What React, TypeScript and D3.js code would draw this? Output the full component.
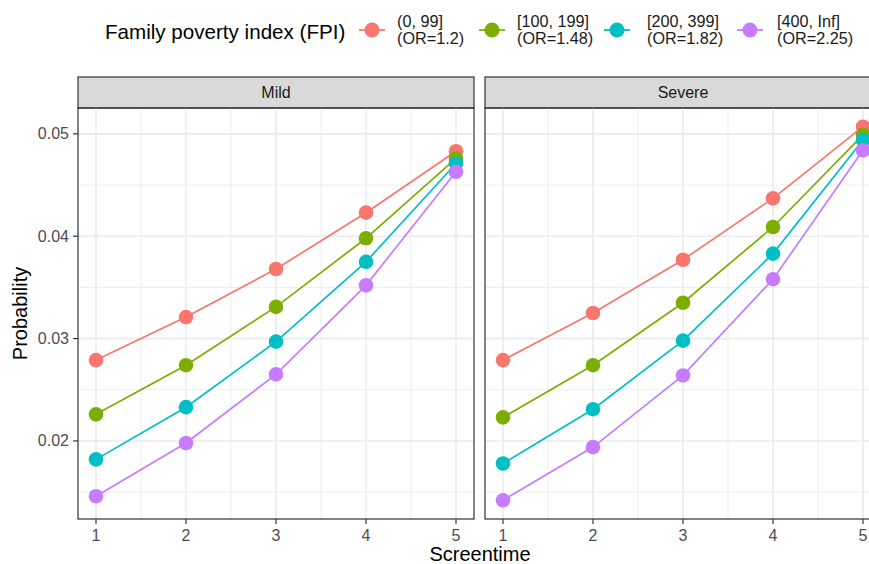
import React from "react";
import * as d3 from "d3";

const facets = ["Mild", "Severe"];
const screentime = [1, 2, 3, 4, 5];
const groups = ["(0, 99]", "[100, 199]", "[200, 399]", "[400, Inf]"];
const groupOR = ["(OR=1.2)", "(OR=1.48)", "(OR=1.82)", "(OR=2.25)"];
const colors = ["#F8766D", "#7CAE00", "#00BFC4", "#C77CFF"];

const mildValues = [
  [0.0279, 0.0321, 0.0368, 0.0423, 0.0483],
  [0.0226, 0.0274, 0.0331, 0.0398, 0.0476],
  [0.0182, 0.0233, 0.0297, 0.0375, 0.0471],
  [0.0146, 0.0198, 0.0265, 0.0352, 0.0463],
];
const severeValues = [
  [0.0279, 0.0325, 0.0377, 0.0437, 0.0507],
  [0.0223, 0.0274, 0.0335, 0.0409, 0.0499],
  [0.0178, 0.0231, 0.0298, 0.0383, 0.0494],
  [0.0142, 0.0194, 0.0264, 0.0358, 0.0484],
];
const yTicks = [0.02, 0.03, 0.04, 0.05];
const yMinor = [0.015, 0.025, 0.035, 0.045];
const xMinor = [1.5, 2.5, 3.5, 4.5];

const W = 869;
const H = 564;
const FONT = "'Liberation Sans', Arial, Helvetica, sans-serif";

export default function App() {
  const all = [...mildValues.flat(), ...severeValues.flat()];
  const [lo, hi] = d3.extent(all) as [number, number];
  const pad = (hi - lo) * 0.05;
  const panelTop = 108;
  const panelBottom = 519;
  const y = d3.scaleLinear().domain([lo - pad, hi + pad]).range([panelBottom, panelTop]);
  const panelW = 396;
  const panelLefts = [78, 485];
  const stripTop = 77;
  const dataByFacet = [mildValues, severeValues];

  return (
    <svg
      width={W}
      height={H}
      style={{ position: "absolute", left: 0, top: 0, background: "#fff" }}
      fontFamily={FONT}
    >
      <rect x={0} y={0} width={W} height={H} fill="#fff" />
      {/* Legend */}
      <text x={105} y={39} fontSize={20.6} fill="#000">
        Family poverty index (FPI)
      </text>
      {groups.map((g, i) => {
        const kx = [372, 492, 617, 750][i];
        const lx = [397, 517, 647, 777][i];
        return (
          <g key={g}>
            <line x1={kx - 13} x2={kx + 13} y1={30} y2={30} stroke={colors[i]} strokeWidth={1.8} />
            <circle cx={kx} cy={30} r={7.5} fill={colors[i]} />
            <text x={lx} y={27} fontSize={16.2} fill="#1a1a1a">
              {g}
            </text>
            <text x={lx} y={44} fontSize={16.2} fill="#1a1a1a">
              {groupOR[i]}
            </text>
          </g>
        );
      })}

      {facets.map((f, fi) => {
        const left = panelLefts[fi];
        const x = d3.scaleLinear().domain([0.8, 5.2]).range([left, left + panelW]);
        const line = d3
          .line<number>()
          .x((_, j) => x(screentime[j]))
          .y((d) => y(d));
        return (
          <g key={f}>
            {/* strip */}
            <rect
              x={left}
              y={stripTop}
              width={panelW}
              height={panelTop - stripTop}
              fill="#D9D9D9"
              stroke="#333333"
              strokeWidth={1.2}
            />
            <text
              x={left + panelW / 2}
              y={(stripTop + panelTop) / 2 + 5.5}
              fontSize={16}
              textAnchor="middle"
              fill="#1a1a1a"
            >
              {f}
            </text>
            {/* grid */}
            {yMinor.map((t) => (
              <line key={"ym" + t} x1={left} x2={left + panelW} y1={y(t)} y2={y(t)} stroke="#EBEBEB" strokeWidth={0.9} />
            ))}
            {xMinor.map((t) => (
              <line key={"xm" + t} x1={x(t)} x2={x(t)} y1={panelTop} y2={panelBottom} stroke="#EBEBEB" strokeWidth={0.9} />
            ))}
            {yTicks.map((t) => (
              <line key={"y" + t} x1={left} x2={left + panelW} y1={y(t)} y2={y(t)} stroke="#EBEBEB" strokeWidth={1.6} />
            ))}
            {screentime.map((t) => (
              <line key={"x" + t} x1={x(t)} x2={x(t)} y1={panelTop} y2={panelBottom} stroke="#EBEBEB" strokeWidth={1.6} />
            ))}
            {/* data */}
            {dataByFacet[fi].map((vals, gi) => (
              <path key={"l" + gi} d={line(vals) || ""} fill="none" stroke={colors[gi]} strokeWidth={1.7} />
            ))}
            {dataByFacet[fi].map((vals, gi) =>
              vals.map((v, j) => (
                <circle key={"p" + gi + "-" + j} cx={x(screentime[j])} cy={y(v)} r={7.3} fill={colors[gi]} />
              ))
            )}
            {/* border */}
            <rect
              x={left}
              y={panelTop}
              width={panelW}
              height={panelBottom - panelTop}
              fill="none"
              stroke="#333333"
              strokeWidth={1.2}
            />
            {/* x axis */}
            {screentime.map((t) => (
              <g key={"xt" + t}>
                <line x1={x(t)} x2={x(t)} y1={panelBottom} y2={panelBottom + 5} stroke="#333333" strokeWidth={1.2} />
                <text x={x(t)} y={541} fontSize={16} textAnchor="middle" fill="#4D4D4D">
                  {t}
                </text>
              </g>
            ))}
          </g>
        );
      })}

      {/* y axis */}
      {yTicks.map((t) => (
        <g key={"yt" + t}>
          <line x1={73} x2={78} y1={y(t)} y2={y(t)} stroke="#333333" strokeWidth={1.2} />
          <text x={69} y={y(t) + 5.5} fontSize={16} textAnchor="end" fill="#4D4D4D">
            {t.toFixed(2)}
          </text>
        </g>
      ))}
      <text
        transform={`translate(27, ${(panelTop + panelBottom) / 2}) rotate(-90)`}
        fontSize={20}
        textAnchor="middle"
        fill="#000"
      >
        Probability
      </text>
      <text x={480} y={561} fontSize={20} textAnchor="middle" fill="#000">
        Screentime
      </text>
    </svg>
  );
}
